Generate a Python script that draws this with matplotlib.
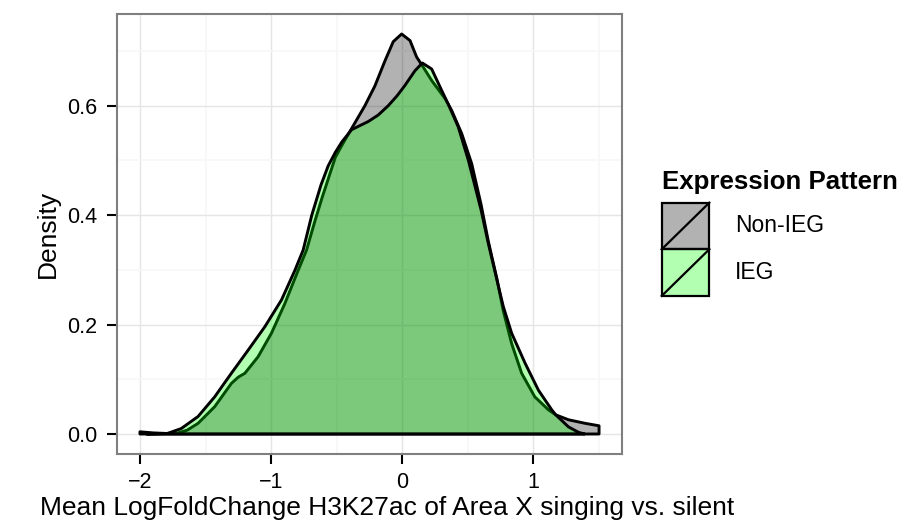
import matplotlib
matplotlib.use('Agg')
import matplotlib.pyplot as plt
from matplotlib.patches import Rectangle
from matplotlib.lines import Line2D
from matplotlib.ticker import FormatStrFormatter

plt.rcParams['font.family'] = ['Liberation Sans', 'DejaVu Sans']

# density estimates per expression pattern (x = mean logFC, y = density)
non_ieg_x = [-2.0, -1.9, -1.8, -1.71, -1.64, -1.557, -1.43, -1.303, -1.25, -1.20, -1.10, -0.998,
             -0.896, -0.794, -0.73, -0.67, -0.61, -0.51, -0.45, -0.387, -0.285, -0.209, -0.132,
             -0.069, -0.005, 0.059, 0.109, 0.153, 0.224, 0.326, 0.377, 0.453, 0.529,
             0.60, 0.656, 0.72, 0.77, 0.834, 0.91, 1.01, 1.115, 1.17, 1.267, 1.394, 1.5]
non_ieg_y = [0.004, 0.002, 0.001, 0.002, 0.007, 0.0195, 0.050, 0.0925, 0.104, 0.111, 0.141, 0.184,
             0.238, 0.299, 0.336, 0.386, 0.433, 0.506, 0.532, 0.558, 0.600, 0.636, 0.682,
             0.717, 0.731, 0.719, 0.689, 0.673, 0.646, 0.613, 0.591, 0.549, 0.494,
             0.420, 0.352, 0.285, 0.225, 0.165, 0.111, 0.068, 0.044, 0.035, 0.026, 0.0195, 0.015]

ieg_x = [-1.95, -1.79, -1.685, -1.557, -1.43, -1.303, -1.176, -1.048, -0.921, -0.819,
         -0.756, -0.69, -0.62, -0.565, -0.51, -0.46, -0.387, -0.32, -0.26, -0.183, -0.107,
         -0.04, 0.02, 0.097, 0.153, 0.224, 0.30, 0.35, 0.427, 0.504, 0.60, 0.656, 0.72,
         0.77, 0.834, 0.937, 1.038, 1.14, 1.17, 1.267, 1.344, 1.39]
ieg_y = [0.0, 0.001, 0.010, 0.032, 0.068, 0.111, 0.153, 0.196, 0.245, 0.299,
         0.336, 0.400, 0.455, 0.490, 0.515, 0.534, 0.556, 0.564, 0.571, 0.583, 0.600,
         0.618, 0.637, 0.664, 0.678, 0.667, 0.628, 0.603, 0.561, 0.500, 0.410, 0.348, 0.283,
         0.233, 0.184, 0.129, 0.080, 0.044, 0.035, 0.013, 0.003, 0.0]

groups = ['Non-IEG', 'IEG']
fill_colors = [(0, 0, 0, 0.3), (0, 1, 0, 0.3)]
curves = [(non_ieg_x, non_ieg_y), (ieg_x, ieg_y)]

W, H = 912, 523
fig = plt.figure(figsize=(W / 100, H / 100), dpi=100)


def fx(px):
    return px / W


def fy(py):
    return 1 - py / H


ax = fig.add_axes([fx(117), fy(454), (622 - 117) / W, (454 - 14) / H])

# area polygons: curve on top, closed along the baseline
for (xs, ys), col in zip(curves, fill_colors):
    px = list(xs) + [xs[-1], xs[0]]
    py = list(ys) + [0, 0]
    ax.fill(px, py, facecolor=col, edgecolor='black', lw=2.1, joinstyle='round', zorder=3)

# ggplot-style 5% expansion of the data range
all_x = non_ieg_x + ieg_x
all_y = non_ieg_y + ieg_y
xr = max(all_x) - min(all_x)
yr = max(all_y)
ax.set_xlim(min(all_x) - 0.05 * xr, max(all_x) + 0.05 * xr)
ax.set_ylim(-0.05 * yr, yr * 1.05)

ax.set_xticks([-2, -1, 0, 1])
ax.set_xticks([-1.5, -0.5, 0.5, 1.5], minor=True)
ax.set_yticks([0.0, 0.2, 0.4, 0.6])
ax.set_yticks([0.1, 0.3, 0.5, 0.7], minor=True)
ax.yaxis.set_major_formatter(FormatStrFormatter('%.1f'))
ax.set_axisbelow(True)
ax.grid(which='major', color='#E5E5E5', lw=1.0)
ax.grid(which='minor', color='#F7F7F7', lw=1.2)
ax.tick_params(which='major', length=7.2, width=1.5, color='black', labelsize=15.5)
ax.tick_params(axis='x', which='major', pad=6)
ax.tick_params(axis='y', which='major', pad=7)
ax.tick_params(which='minor', length=0)
for sp in ax.spines.values():
    sp.set_color('#7F7F7F')
    sp.set_linewidth(1.5)

ax.set_ylabel('Density', fontsize=19, labelpad=5)
fig.text(fx(40), fy(508), 'Mean LogFoldChange H3K27ac of Area X singing vs. silent',
         fontsize=19, ha='left', va='center')

# legend
fig.text(fx(662), fy(182), 'Expression Pattern', fontsize=18.6, fontweight='bold',
         ha='left', va='center')
key_left, key_w = 661.7, 47.6
key_tops = [202.7, 249.3]
key_h = 46.6
for name, col, top in zip(groups, fill_colors, key_tops):
    fig.add_artist(Rectangle((fx(key_left), fy(top + key_h)), key_w / W, key_h / H,
                             transform=fig.transFigure, facecolor=col,
                             edgecolor='black', lw=1.6))
    fig.add_artist(Line2D([fx(key_left), fx(key_left + key_w)], [fy(top + key_h), fy(top)],
                          transform=fig.transFigure, color='black', lw=1.6))
    fig.text(fx(735), fy(top + key_h / 2), name, fontsize=16.5, ha='left', va='center')

fig.savefig('out.png', dpi=100)
